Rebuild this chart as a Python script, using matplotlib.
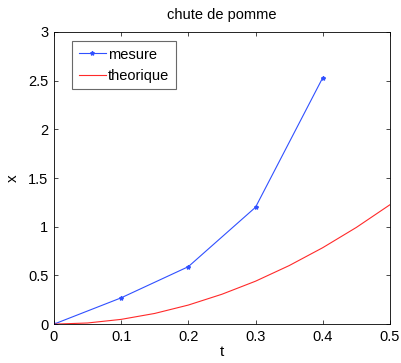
import matplotlib
matplotlib.use('Agg')
import matplotlib.pyplot as plt

plt.rcParams['font.family'] = ['Liberation Sans', 'DejaVu Sans']

# measured points
t_mesure = [0.0, 0.1, 0.2, 0.3, 0.4]
x_mesure = [0.0, 0.27, 0.59, 1.20, 2.53]

# theoretical curve
t_theo = [0.0, 0.05, 0.1, 0.15, 0.2, 0.25, 0.3, 0.35, 0.4, 0.45, 0.5]
x_theo = [0.0, 0.012, 0.049, 0.11, 0.196, 0.307, 0.441, 0.601, 0.785, 0.993, 1.226]

fig = plt.figure(figsize=(4.02, 3.63), dpi=100)
ax = fig.add_axes([0.134, 0.107, 0.836, 0.805])

ax.plot(t_mesure, x_mesure, color='#3050ff', lw=0.8, marker='*', ms=3, label='mesure')
ax.plot(t_theo, x_theo, color='#ff2a2a', lw=0.8, label='theorique')

ax.set_xlim(0, 0.5)
ax.set_ylim(0, 3)
ax.set_xticks([0, 0.1, 0.2, 0.3, 0.4, 0.5])
ax.set_xticklabels(['0', '0.1', '0.2', '0.3', '0.4', '0.5'])
ax.set_yticks([0, 0.5, 1, 1.5, 2, 2.5, 3])
ax.set_yticklabels(['0', '0.5', '1', '1.5', '2', '2.5', '3'])
ax.tick_params(direction='in', top=True, right=True, labelsize=10.5, length=3, width=0.5, pad=4)
for s in ax.spines.values():
    s.set_linewidth(0.6)

ax.set_xlabel('t', fontsize=11, labelpad=1)
ax.set_ylabel('x', fontsize=11, labelpad=6)
ax.set_title('chute de pomme', fontsize=10.5, pad=9)

leg = ax.legend(loc='upper left', bbox_to_anchor=(0.054, 0.969), fontsize=10.5,
                fancybox=False, handlelength=1.9, handletextpad=0.1,
                borderpad=0.45, labelspacing=0.5, borderaxespad=0)
leg.get_frame().set_edgecolor('#444444')
leg.get_frame().set_linewidth(0.8)

plt.savefig('out.png', dpi=100)
